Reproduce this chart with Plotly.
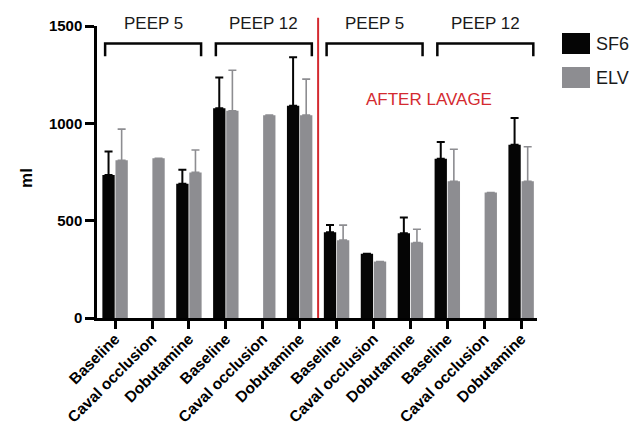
import plotly.graph_objects as go

# Stroke volume (ml) by condition, before and after lavage
conditions = ["Baseline", "Caval occlusion", "Dobutamine",
              "Baseline", "Caval occlusion", "Dobutamine",
              "Baseline", "Caval occlusion", "Dobutamine",
              "Baseline", "Caval occlusion", "Dobutamine"]
positions = list(range(len(conditions)))

sf6_mean = [735, None, 690, 1078, None, 1090, 440, 330, 436, 818, None, 890]
sf6_sd = [120, 0, 72, 158, 0, 250, 38, 0, 80, 86, 0, 137]
elv_mean = [810, 820, 748, 1065, 1042, 1042, 400, 290, 388, 702, 645, 702]
elv_sd = [160, 0, 115, 208, 0, 185, 77, 0, 68, 165, 0, 178]

# Bracket groups: (label, first index, last index)
groups = [("PEEP 5", 0, 2), ("PEEP 12", 3, 5), ("PEEP 5", 6, 8), ("PEEP 12", 9, 11)]
lavage_split = 5.5
lavage_label = "AFTER LAVAGE"

y_ticks = [0, 500, 1000, 1500]

BLACK = "#050505"
GREY = "#8d8d91"
RED = "#d42a30"
FONT = "Liberation Sans, Arial, sans-serif"

fig = go.Figure()
fig.add_trace(go.Bar(
    name="SF6", x=positions, y=sf6_mean, marker_color=BLACK, marker_line_width=0,
    error_y=dict(type="data", symmetric=False, array=sf6_sd,
                 arrayminus=[0] * len(sf6_sd), color=BLACK, thickness=2, width=4),
))
fig.add_trace(go.Bar(
    name="ELV", x=positions, y=elv_mean, marker_color=GREY, marker_line_width=0,
    error_y=dict(type="data", symmetric=False, array=elv_sd,
                 arrayminus=[0] * len(elv_sd), color=GREY, thickness=1.6, width=4),
))

shapes = []
annotations = []

# PEEP brackets with labels
for label, a, b in groups:
    x0, x1 = a - 0.27, b + 0.33
    shapes.append(dict(
        type="path", xref="x", yref="y",
        path=f"M {x0} 1345 L {x0} 1410 L {x1} 1410 L {x1} 1345",
        line=dict(color=BLACK, width=2.5),
    ))
    annotations.append(dict(
        x=(a + b) / 2 + 0.03, y=1.008, xref="x", yref="paper", text=label,
        showarrow=False, font=dict(family=FONT, size=17, color="#1a1a1a"),
        xanchor="center", yanchor="middle",
    ))

# Lavage divider
shapes.append(dict(type="line", xref="x", yref="paper", x0=lavage_split, x1=lavage_split,
                   y0=0, y1=1.028, line=dict(color=RED, width=2)))
annotations.append(dict(
    x=8.5, y=1125, xref="x", yref="y", text=lavage_label, showarrow=False,
    font=dict(family=FONT, size=17, color=RED), xanchor="center", yanchor="middle",
))

# Axis title
annotations.append(dict(
    x=-0.159, y=0.48, xref="paper", yref="paper", text="<b>ml</b>", textangle=-90,
    showarrow=False, font=dict(family=FONT, size=17, color="black"),
    xanchor="center", yanchor="middle",
))

# Legend with large swatches
for i, (name, col) in enumerate([("SF6", BLACK), ("ELV", GREY)]):
    top = 33 + i * 34
    y1 = (318 - top) / 292
    y0 = (318 - top - 21) / 292
    shapes.append(dict(type="rect", xref="paper", yref="paper",
                       x0=(562 - 97) / 440, x1=(590 - 97) / 440, y0=y0, y1=y1,
                       fillcolor=col, line=dict(width=0)))
    annotations.append(dict(
        x=(594 - 97) / 440, y=(y0 + y1) / 2, xref="paper", yref="paper", text=name,
        showarrow=False, font=dict(family=FONT, size=18, color="#1a1a1a"),
        xanchor="left", yanchor="middle",
    ))

fig.update_layout(
    width=638, height=427,
    margin=dict(l=97, r=101, t=26, b=109),
    paper_bgcolor="white", plot_bgcolor="white",
    barmode="group", bargap=0.29, bargroupgap=0.06,
    showlegend=False,
    shapes=shapes, annotations=annotations,
    font=dict(family=FONT, color="black"),
)
fig.update_xaxes(
    range=[-0.49, 11.43], tickmode="array", tickvals=positions,
    ticktext=[f"<b>{c}</b>" for c in conditions], tickangle=-45,
    tickfont=dict(family=FONT, size=15.5, color="black"),
    showline=True, linecolor="black", linewidth=2.5,
    ticks="outside", ticklen=8, tickwidth=2.5, tickcolor="black",
    ticklabelstandoff=-5,
    showgrid=False, zeroline=False, automargin=False,
)
fig.update_yaxes(
    range=[0, 1500], tickmode="array", tickvals=y_ticks,
    ticktext=[f"<b>{v}</b>" for v in y_ticks],
    tickfont=dict(family=FONT, size=15, color="black"),
    showline=True, linecolor="black", linewidth=2.5,
    ticks="outside", ticklen=9, tickwidth=2.5, tickcolor="black",
    showgrid=False, zeroline=False, automargin=False,
)

fig.write_html("out.html")
